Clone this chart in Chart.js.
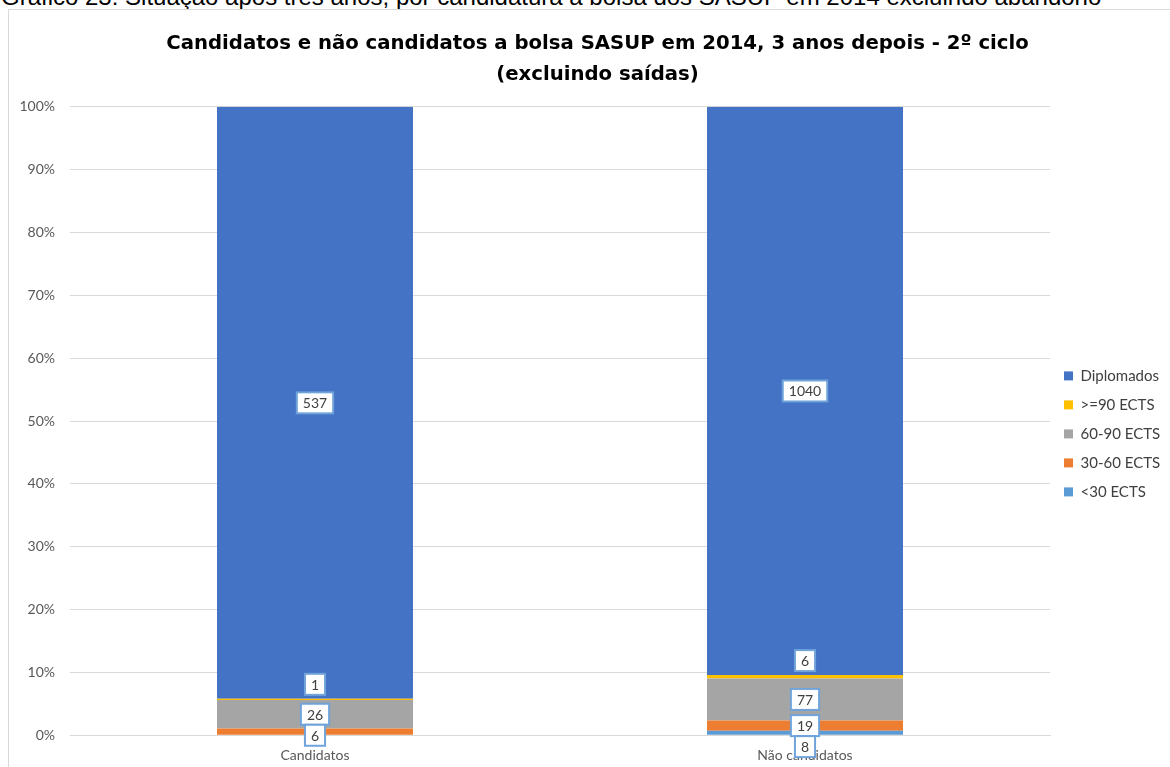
<!DOCTYPE html>
<html>
<head>
<meta charset="utf-8">
<script src="https://cdn.jsdelivr.net/npm/chart.js@4.4.0/dist/chart.umd.min.js"></script>
<style>
  body { margin: 0; background: #fff; overflow: hidden; width: 1170px; height: 767px; position: relative; }
  #caption { position: absolute; left: 1px; top: -17px; font: 24px "Liberation Sans", Arial, sans-serif; white-space: nowrap; color: #000; }
  #box { position: absolute; left: 8px; top: 9px; width: 1195px; height: 790px; border: 1px solid #d9d9d9; }
  #wrap { position: absolute; left: 0; top: 0; width: 1177px; height: 774px; }
</style>
</head>
<body>
<div id="caption">Gráfico 23: Situação após três anos, por candidatura a bolsa dos SASUP em 2014 excluindo abandono</div>
<div id="box">
  <div id="wrap"><canvas id="grafico"></canvas></div>
</div>
<script>
// dados (contagens)
const categorias = ['Candidatos', 'Não candidatos'];
const menos30 = [0, 8];
const ects30a60 = [6, 19];
const ects60a90 = [26, 77];
const ects90mais = [1, 6];
const diplomados = [537, 1040];

const series = [
  { label: '<30 ECTS', valores: menos30, cor: '#5B9BD5' },
  { label: '30-60 ECTS', valores: ects30a60, cor: '#ED7D31' },
  { label: '60-90 ECTS', valores: ects60a90, cor: '#A5A5A5' },
  { label: '>=90 ECTS', valores: ects90mais, cor: '#FFC000' },
  { label: 'Diplomados', valores: diplomados, cor: '#4472C4' }
];

const totais = categorias.map((c, i) => series.reduce((s, d) => s + d.valores[i], 0));

const fonte = 'Lato, "Open Sans", sans-serif';

// etiquetas de dados em caixa branca, centradas no segmento
// (segmentos muito finos: etiqueta por cima; sobreposições: empurra para baixo)
const etiquetas = {
  id: 'etiquetas',
  afterDatasetsDraw(chart) {
    const ctx = chart.ctx;
    ctx.save();
    ctx.font = '14px ' + fonte;
    ctx.textAlign = 'center';
    ctx.textBaseline = 'middle';
    categorias.forEach((c, i) => {
      let limite = -Infinity;
      for (let d = series.length - 1; d >= 0; d--) {
        const valor = series[d].valores[i];
        if (!valor) continue;
        const el = chart.getDatasetMeta(d).data[i];
        const txt = String(valor);
        const w = ctx.measureText(txt).width + 12;
        const h = 21;
        const alto = Math.abs(el.base - el.y);
        const temAbaixo = series.slice(0, d).some(s => s.valores[i]);
        let cy = (el.y + el.base) / 2;
        if (alto < 5 && temAbaixo) cy = Math.min(el.y, el.base) - 4 - h / 2;
        if (cy - h / 2 < limite) cy = limite + h / 2;
        limite = cy + h / 2;
        ctx.fillStyle = '#fff';
        ctx.fillRect(el.x - w / 2, cy - h / 2, w, h);
        ctx.strokeStyle = '#6FA3DA';
        ctx.lineWidth = 2;
        ctx.strokeRect(el.x - w / 2, cy - h / 2, w, h);
        ctx.fillStyle = '#404040';
        ctx.fillText(txt, el.x, cy + 1);
      }
    });
    ctx.restore();
  }
};

new Chart(document.getElementById('grafico'), {
  type: 'bar',
  data: {
    labels: categorias,
    datasets: series.map(s => ({
      label: s.label,
      data: s.valores.map((v, i) => v / totais[i] * 100),
      backgroundColor: s.cor,
      borderWidth: 0,
      barPercentage: 0.4,
      categoryPercentage: 1
    }))
  },
  options: {
    responsive: true,
    maintainAspectRatio: false,
    animation: false,
    layout: { padding: { left: 0, right: 0, top: 0, bottom: 8 } },
    plugins: {
      title: {
        display: true,
        text: ['Candidatos e não candidatos a bolsa SASUP em 2014, 3 anos depois - 2º ciclo', '(excluindo saídas)'],
        color: '#000',
        font: { family: '"DejaVu Sans", sans-serif', size: 19.7, weight: 'bold', lineHeight: 1.57 },
        padding: { top: 18.5, bottom: 16.5 }
      },
      legend: {
        position: 'right',
        reverse: true,
        title: { display: true, text: ' ', font: { size: 14 }, padding: { top: 65, bottom: 0 } },
        labels: {
          color: '#404040',
          font: { family: fonte, size: 15 },
          boxWidth: 9,
          boxHeight: 9,
          padding: 14
        }
      },
      tooltip: { enabled: false }
    },
    scales: {
      x: {
        stacked: true,
        grid: { display: false, drawTicks: false },
        border: { color: '#d9d9d9' },
        ticks: { color: '#595959', font: { family: fonte, size: 14 }, padding: 12 },
        afterFit(scale) { scale.paddingRight = 136; }
      },
      y: {
        stacked: true,
        min: 0,
        max: 100,
        grid: { color: '#d9d9d9', drawTicks: false },
        border: { display: false },
        ticks: {
          stepSize: 10,
          color: '#595959',
          font: { family: fonte, size: 14 },
          padding: 15,
          callback: v => v + '%'
        },
        afterFit(scale) { scale.width = 61; }
      }
    }
  },
  plugins: [etiquetas]
});
</script>
</body>
</html>
